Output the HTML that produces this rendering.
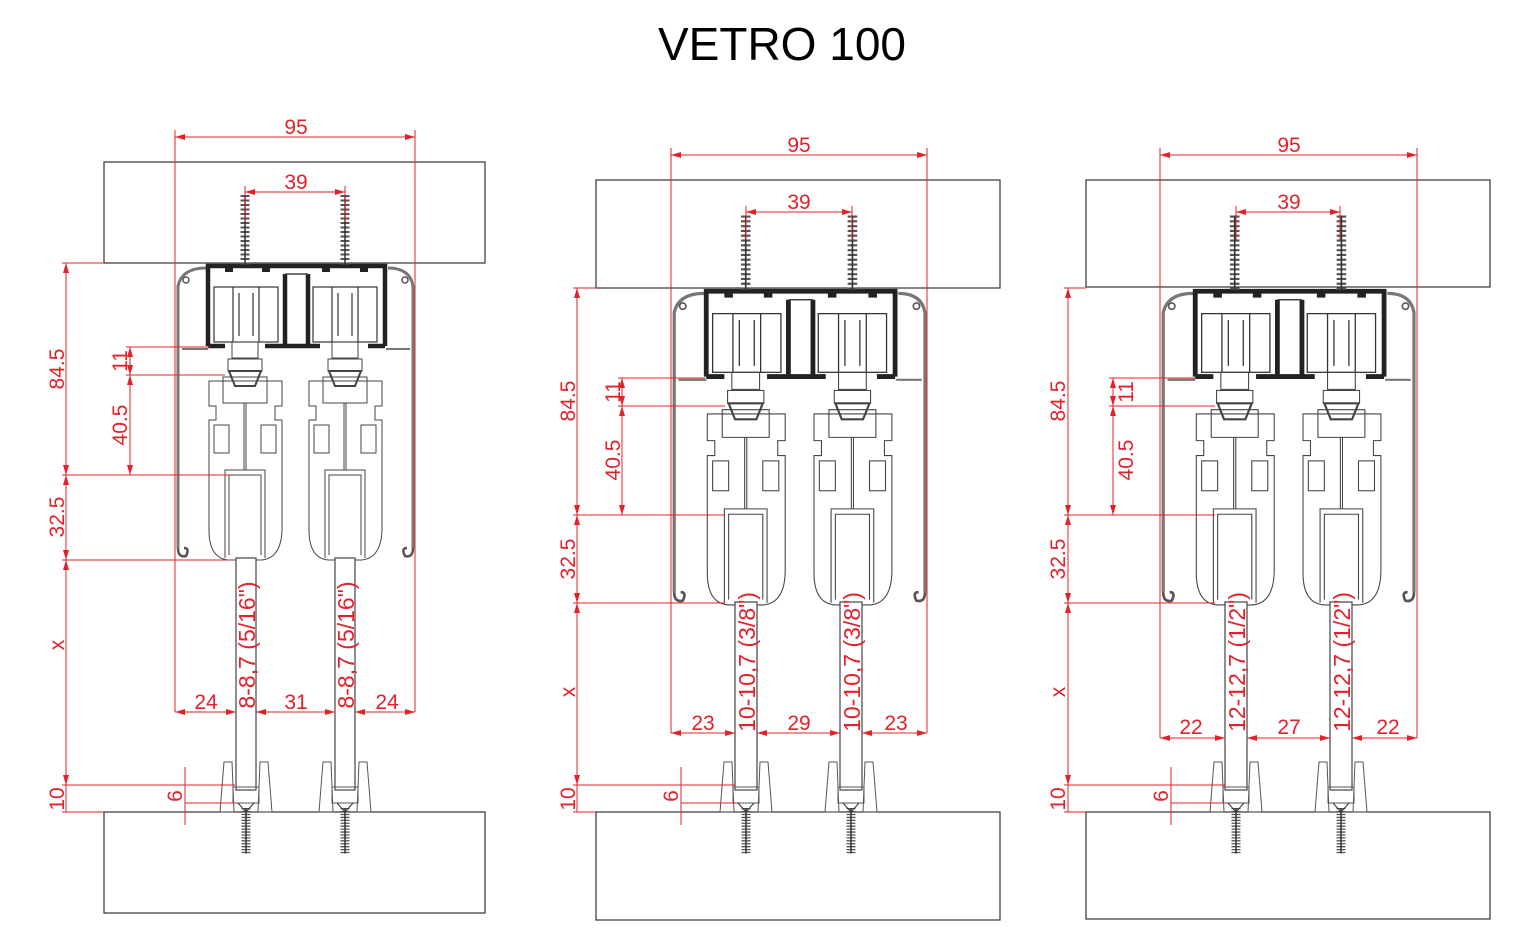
<!DOCTYPE html>
<html><head><meta charset="utf-8"><style>
html,body{margin:0;padding:0;background:#fff;width:1518px;height:950px;overflow:hidden}
svg text{font-family:"Liberation Sans",sans-serif}
</style></head><body>
<svg width="1518" height="950" viewBox="0 0 1518 950" xmlns="http://www.w3.org/2000/svg">
<defs>
<marker id="ar" viewBox="0 0 10 6" refX="10" refY="3" markerWidth="10" markerHeight="6" markerUnits="userSpaceOnUse" orient="auto-start-reverse"><path d="M0,0 L10,3 L0,6 Z" fill="#e4202a"/></marker>
<g id="screw">
<line x1="0" y1="0" x2="0" y2="70" stroke="#555" stroke-width="9" stroke-dasharray="2 2.5"/>
<line x1="0" y1="0" x2="0" y2="70" stroke="#333" stroke-width="1.5"/>
</g>
<g id="carrier" fill="none" stroke="#444" stroke-width="1">
<rect x="-13" y="342" width="26" height="16"/>
<rect x="-17" y="359" width="34" height="12"/>
<path d="M-16,371 L16,371 L10,386 L-10,386 Z" stroke-width="2"/>
<path d="M-36,381 H37 V406 H30 V420 H37 V530 Q36,558 17,560 H-17 Q-36,558 -36,530 V420 H-29 V406 H-36 Z"/>
<path d="M-22,377 H22 V403 H-22 Z"/>
<line x1="-1" y1="403" x2="-1" y2="470"/><line x1="1" y1="403" x2="1" y2="470"/>
<rect x="-31" y="425" width="15" height="28"/><rect x="16" y="425" width="15" height="28"/>
<path d="M-16,555 V475 H16 V555" />
<path d="M-20,558 V470 H20 V558"/>
</g>
<g id="hw">
<path d="M206,268 Q182,268 178,286 L178,548" fill="none" stroke="#777" stroke-width="3"/>
<path d="M178,548 Q178,558 186,556 Q190,548 184,548" fill="none" stroke="#555" stroke-width="2.5"/>
<path d="M388,268 Q410,268 413,286 L413,548" fill="none" stroke="#777" stroke-width="3"/>
<path d="M413,548 Q413,558 405,556 Q401,548 407,548" fill="none" stroke="#555" stroke-width="2.5"/>
<line x1="182" y1="349" x2="208" y2="349" stroke="#777" stroke-width="2"/>
<line x1="386" y1="349" x2="410" y2="349" stroke="#777" stroke-width="2"/>
<circle cx="186" cy="280" r="3" fill="none" stroke="#555" stroke-width="1.5"/>
<circle cx="405" cy="280" r="3" fill="none" stroke="#555" stroke-width="1.5"/>
<path d="M208,346 V266 H385 V346 M208,346 H225 M265,346 H320 M368,346 H385 M285,274 V346 M308,274 V346" fill="none" stroke="#222" stroke-width="4.5"/>
<line x1="285" y1="274" x2="308" y2="274" stroke="#444" stroke-width="1.5"/>
<rect x="225" y="266" width="8" height="6" fill="#222"/><rect x="262" y="266" width="8" height="6" fill="#222"/>
<rect x="322" y="266" width="8" height="6" fill="#222"/><rect x="360" y="266" width="8" height="6" fill="#222"/>
<g fill="none" stroke="#333" stroke-width="1.2">
<rect x="214" y="287" width="64" height="55"/><line x1="233" y1="287" x2="233" y2="342"/><line x1="259" y1="287" x2="259" y2="342"/>
<line x1="239" y1="293" x2="239" y2="336"/><line x1="253" y1="293" x2="253" y2="336"/>
<rect x="313" y="287" width="64" height="55"/><line x1="332" y1="287" x2="332" y2="342"/><line x1="358" y1="287" x2="358" y2="342"/>
<line x1="338" y1="293" x2="338" y2="336"/><line x1="352" y1="293" x2="352" y2="336"/>
</g>
<use href="#screw" transform="translate(245,195)"/>
<use href="#screw" transform="translate(345,195)"/>
<use href="#carrier" transform="translate(245,0)"/>
<use href="#carrier" transform="translate(345,0)"/>
</g>
<g id="guide" fill="none" stroke="#555" stroke-width="1">
<path d="M-26,812 L-22,762 H-14 L-12,812 Z"/><path d="M26,812 L22,762 H14 L12,812 Z"/>
<rect x="-13" y="787" width="26" height="16"/>
<use href="#screw" transform="translate(0,808) scale(1,0.65)"/>
<path d="M-8,803 L0,812 L8,803" stroke="#333"/>
</g>
</defs>

<text x="782" y="60" font-size="46" text-anchor="middle" fill="#000">VETRO 100</text>

<g fill="none" stroke="#333" stroke-width="1.2">
<rect x="104" y="162" width="381" height="101"/>
<rect x="104" y="812" width="381" height="101"/>
<rect x="596" y="180" width="404" height="108"/>
<rect x="596" y="812" width="404" height="108"/>
<rect x="1086" y="180" width="404" height="107"/>
<rect x="1086" y="812" width="404" height="107"/>
</g>

<use href="#hw"/>
<g fill="#fff" stroke="#444" stroke-width="1.2">
<rect x="236" y="558" width="20" height="232"/><rect x="335" y="558" width="20" height="232"/>
</g>
<use href="#guide" transform="translate(246,0)"/><use href="#guide" transform="translate(345,0)"/>

<use href="#hw" transform="translate(484.3,7.4) scale(1.067)"/>
<g fill="#fff" stroke="#444" stroke-width="1.2">
<rect x="735" y="602" width="22" height="188"/><rect x="840" y="602" width="22" height="188"/>
</g>
<use href="#guide" transform="translate(746,0)"/><use href="#guide" transform="translate(851,0)"/>

<use href="#hw" transform="translate(973.3,7.4) scale(1.067)"/>
<g fill="#fff" stroke="#444" stroke-width="1.2">
<rect x="1225" y="602" width="22" height="188"/><rect x="1330" y="602" width="22" height="188"/>
</g>
<use href="#guide" transform="translate(1236,0)"/><use href="#guide" transform="translate(1341,0)"/>

<g stroke="#e4202a" stroke-width="1" fill="none">
<line x1="175" y1="130" x2="175" y2="712"/><line x1="415" y1="130" x2="415" y2="712"/>
<line x1="175" y1="137" x2="415" y2="137" marker-start="url(#ar)" marker-end="url(#ar)"/>
<line x1="245" y1="186" x2="245" y2="222"/><line x1="345" y1="186" x2="345" y2="222"/>
<line x1="245" y1="192" x2="345" y2="192" marker-start="url(#ar)" marker-end="url(#ar)"/>
<line x1="62" y1="263" x2="104" y2="263"/><line x1="62" y1="475" x2="230" y2="475"/><line x1="62" y1="560" x2="230" y2="560"/><line x1="62" y1="785" x2="235" y2="785"/><line x1="62" y1="812" x2="104" y2="812"/>
<line x1="66" y1="263" x2="66" y2="475" marker-start="url(#ar)" marker-end="url(#ar)"/>
<line x1="66" y1="475" x2="66" y2="560" marker-start="url(#ar)" marker-end="url(#ar)"/>
<line x1="66" y1="560" x2="66" y2="785" marker-start="url(#ar)" marker-end="url(#ar)"/>
<line x1="66" y1="785" x2="66" y2="812"/>
<line x1="126" y1="347" x2="210" y2="347"/><line x1="126" y1="375" x2="225" y2="375"/>
<line x1="130" y1="347" x2="130" y2="375" marker-start="url(#ar)" marker-end="url(#ar)"/>
<line x1="130" y1="375" x2="130" y2="475" marker-start="url(#ar)" marker-end="url(#ar)"/>
<line x1="185" y1="767" x2="185" y2="825"/><line x1="185" y1="803" x2="235" y2="803"/>
<line x1="175" y1="712" x2="236" y2="712" marker-start="url(#ar)" marker-end="url(#ar)"/>
<line x1="256" y1="712" x2="335" y2="712" marker-start="url(#ar)" marker-end="url(#ar)"/>
<line x1="355" y1="712" x2="415" y2="712" marker-start="url(#ar)" marker-end="url(#ar)"/>
<line x1="671" y1="148" x2="671" y2="733"/><line x1="927" y1="148" x2="927" y2="733"/>
<line x1="671" y1="155" x2="927" y2="155" marker-start="url(#ar)" marker-end="url(#ar)"/>
<line x1="746" y1="206" x2="746" y2="240"/><line x1="852" y1="206" x2="852" y2="240"/>
<line x1="746" y1="212" x2="852" y2="212" marker-start="url(#ar)" marker-end="url(#ar)"/>
<line x1="573" y1="288" x2="596" y2="288"/><line x1="573" y1="515" x2="725" y2="515"/><line x1="573" y1="603" x2="725" y2="603"/><line x1="573" y1="785" x2="735" y2="785"/><line x1="573" y1="812" x2="596" y2="812"/>
<line x1="577" y1="288" x2="577" y2="515" marker-start="url(#ar)" marker-end="url(#ar)"/>
<line x1="577" y1="515" x2="577" y2="603" marker-start="url(#ar)" marker-end="url(#ar)"/>
<line x1="577" y1="603" x2="577" y2="785" marker-start="url(#ar)" marker-end="url(#ar)"/>
<line x1="577" y1="785" x2="577" y2="812"/>
<line x1="618" y1="378" x2="705" y2="378"/><line x1="618" y1="406" x2="725" y2="406"/>
<line x1="622" y1="378" x2="622" y2="406" marker-start="url(#ar)" marker-end="url(#ar)"/>
<line x1="622" y1="406" x2="622" y2="515" marker-start="url(#ar)" marker-end="url(#ar)"/>
<line x1="681" y1="767" x2="681" y2="825"/><line x1="681" y1="803" x2="735" y2="803"/>
<line x1="671" y1="733" x2="735" y2="733" marker-start="url(#ar)" marker-end="url(#ar)"/>
<line x1="757" y1="733" x2="840" y2="733" marker-start="url(#ar)" marker-end="url(#ar)"/>
<line x1="862" y1="733" x2="927" y2="733" marker-start="url(#ar)" marker-end="url(#ar)"/>
<line x1="1160" y1="148" x2="1160" y2="738"/><line x1="1417" y1="148" x2="1417" y2="738"/>
<line x1="1160" y1="155" x2="1417" y2="155" marker-start="url(#ar)" marker-end="url(#ar)"/>
<line x1="1236" y1="206" x2="1236" y2="240"/><line x1="1340" y1="206" x2="1340" y2="240"/>
<line x1="1236" y1="212" x2="1340" y2="212" marker-start="url(#ar)" marker-end="url(#ar)"/>
<line x1="1064" y1="288" x2="1086" y2="288"/><line x1="1064" y1="515" x2="1215" y2="515"/><line x1="1064" y1="603" x2="1215" y2="603"/><line x1="1064" y1="785" x2="1225" y2="785"/><line x1="1064" y1="812" x2="1086" y2="812"/>
<line x1="1068" y1="288" x2="1068" y2="515" marker-start="url(#ar)" marker-end="url(#ar)"/>
<line x1="1068" y1="515" x2="1068" y2="603" marker-start="url(#ar)" marker-end="url(#ar)"/>
<line x1="1068" y1="603" x2="1068" y2="785" marker-start="url(#ar)" marker-end="url(#ar)"/>
<line x1="1068" y1="785" x2="1068" y2="812"/>
<line x1="1109" y1="378" x2="1195" y2="378"/><line x1="1109" y1="406" x2="1215" y2="406"/>
<line x1="1113" y1="378" x2="1113" y2="406" marker-start="url(#ar)" marker-end="url(#ar)"/>
<line x1="1113" y1="406" x2="1113" y2="515" marker-start="url(#ar)" marker-end="url(#ar)"/>
<line x1="1171" y1="767" x2="1171" y2="825"/><line x1="1171" y1="803" x2="1225" y2="803"/>
<line x1="1160" y1="738" x2="1225" y2="738" marker-start="url(#ar)" marker-end="url(#ar)"/>
<line x1="1247" y1="738" x2="1330" y2="738" marker-start="url(#ar)" marker-end="url(#ar)"/>
<line x1="1352" y1="738" x2="1417" y2="738" marker-start="url(#ar)" marker-end="url(#ar)"/>
</g>

<g fill="#e4202a" font-size="21" text-anchor="middle">
<text x="296" y="134">95</text><text x="296" y="189">39</text>
<text transform="translate(64,369) rotate(-90)">84.5</text>
<text transform="translate(64,517) rotate(-90)">32.5</text>
<text transform="translate(64,645) rotate(-90)">x</text>
<text transform="translate(64,799) rotate(-90)">10</text>
<text transform="translate(127,361) rotate(-90)">11</text>
<text transform="translate(127,425) rotate(-90)">40.5</text>
<text transform="translate(182,796) rotate(-90)">6</text>
<text x="206" y="709">24</text><text x="296" y="709">31</text><text x="387" y="709">24</text>
<text transform="translate(255,645) rotate(-90)" font-size="23">8-8,7 (5/16")</text>
<text transform="translate(354,645) rotate(-90)" font-size="23">8-8,7 (5/16")</text>
<text x="799" y="152">95</text><text x="799" y="209">39</text>
<text transform="translate(575,401) rotate(-90)">84.5</text>
<text transform="translate(575,559) rotate(-90)">32.5</text>
<text transform="translate(575,692) rotate(-90)">x</text>
<text transform="translate(575,799) rotate(-90)">10</text>
<text transform="translate(620,392) rotate(-90)">11</text>
<text transform="translate(620,460) rotate(-90)">40.5</text>
<text transform="translate(678,796) rotate(-90)">6</text>
<text x="703" y="730">23</text><text x="799" y="730">29</text><text x="896" y="730">23</text>
<text transform="translate(755,662) rotate(-90)" font-size="23">10-10,7 (3/8")</text>
<text transform="translate(860,662) rotate(-90)" font-size="23">10-10,7 (3/8")</text>
<text x="1289" y="152">95</text><text x="1289" y="209">39</text>
<text transform="translate(1065,401) rotate(-90)">84.5</text>
<text transform="translate(1065,559) rotate(-90)">32.5</text>
<text transform="translate(1065,692) rotate(-90)">x</text>
<text transform="translate(1065,799) rotate(-90)">10</text>
<text transform="translate(1133,392) rotate(-90)">11</text>
<text transform="translate(1133,460) rotate(-90)">40.5</text>
<text transform="translate(1168,796) rotate(-90)">6</text>
<text x="1191" y="734">22</text><text x="1289" y="734">27</text><text x="1388" y="734">22</text>
<text transform="translate(1245,662) rotate(-90)" font-size="23">12-12,7 (1/2")</text>
<text transform="translate(1350,662) rotate(-90)" font-size="23">12-12,7 (1/2")</text>
</g>
</svg>
</body></html>
